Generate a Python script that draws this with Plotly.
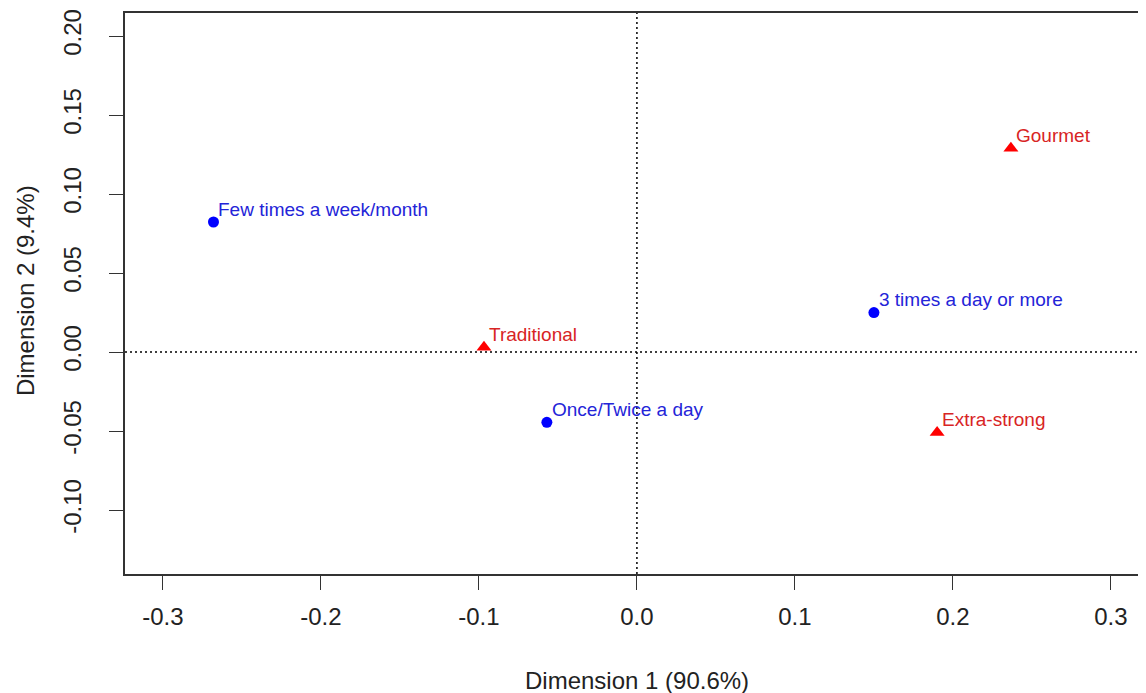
import plotly.graph_objects as go

# row categories (consumption frequency)
row_labels = ["Few times a week/month", "Once/Twice a day", "3 times a day or more"]
row_dim1 = [-0.268, -0.057, 0.150]
row_dim2 = [0.0823, -0.0445, 0.0250]

# column categories (coffee type)
col_labels = ["Traditional", "Gourmet", "Extra-strong"]
col_dim1 = [-0.0968, 0.2367, 0.190]
col_dim2 = [0.0030, 0.1290, -0.0510]

x_ticks = [-0.3, -0.2, -0.1, 0.0, 0.1, 0.2, 0.3]
x_ticktext = ["-0.3", "-0.2", "-0.1", "0.0", "0.1", "0.2", "0.3"]
y_ticks = [-0.10, -0.05, 0.00, 0.05, 0.10, 0.15, 0.20]
y_ticktext = ["-0.10", "-0.05", "0.00", "0.05", "0.10", "0.15", "0.20"]

FONT = "Liberation Sans, Arial, sans-serif"
BLUE_TXT = "#2424d8"
RED_TXT = "#d82424"

fig = go.Figure()

fig.add_trace(
    go.Scatter(
        x=row_dim1,
        y=row_dim2,
        mode="markers",
        marker=dict(symbol="circle", size=11, color="#0000ff"),
        name="rows"
    )
)

fig.add_trace(
    go.Scatter(
        x=col_dim1,
        y=col_dim2,
        mode="markers",
        marker=dict(symbol="triangle-up", size=13, color="#ff0000"),
        name="columns"
    )
)

# point labels, just above and to the right of each point
for labels, xs, ys, col in [(row_labels, row_dim1, row_dim2, BLUE_TXT),
                            (col_labels, col_dim1, col_dim2, RED_TXT)]:
    for lab, x, y in zip(labels, xs, ys):
        fig.add_annotation(
            x=x, y=y, text=lab, showarrow=False,
            xanchor="left", yanchor="middle", xshift=3, yshift=13,
            font=dict(family=FONT, size=19, color=col)
        )

# dotted reference lines through the origin
fig.add_hline(y=0, line=dict(color="black", width=1.5, dash="2px,3px"))
fig.add_vline(x=0, line=dict(color="black", width=1.5, dash="2px,3px"))

fig.update_xaxes(
    range=[-0.324, 0.3222],
    tickvals=x_ticks,
    ticktext=x_ticktext,
    ticks="outside",
    ticklen=14,
    tickcolor="#333",
    tickfont=dict(family=FONT, size=24, color="#222"),
    ticklabelstandoff=6,
    showline=True,
    linecolor="#333",
    linewidth=2,
    mirror=True,
    showgrid=False,
    zeroline=False
)

fig.update_yaxes(
    range=[-0.1405, 0.2146],
    tickvals=y_ticks,
    ticktext=y_ticktext,
    ticks="outside",
    ticklen=14,
    tickangle=-90,
    tickcolor="#333",
    tickfont=dict(family=FONT, size=24, color="#222"),
    ticklabelstandoff=18,
    showline=True,
    linecolor="#333",
    linewidth=2,
    showgrid=False,
    zeroline=False
)

fig.add_annotation(
    text="Dimension 1 (90.6%)", x=0.5015, y=-0.189, xref="paper", yref="paper",
    xanchor="center", yanchor="middle",
    showarrow=False, font=dict(family=FONT, size=24, color="#222")
)
fig.add_annotation(
    text="Dimension 2 (9.4%)", x=-0.098, y=0.506, xref="paper", yref="paper",
    xanchor="center", yanchor="middle",
    showarrow=False, textangle=-90, font=dict(family=FONT, size=24, color="#222")
)

# the page body adds an 8px margin, so the figure is sized to fit inside the window
fig.update_layout(
    width=1138,
    height=685,
    margin=dict(l=117, r=0, t=5, b=119),
    paper_bgcolor="white",
    plot_bgcolor="white",
    showlegend=False
)

fig.write_html("out.html")
